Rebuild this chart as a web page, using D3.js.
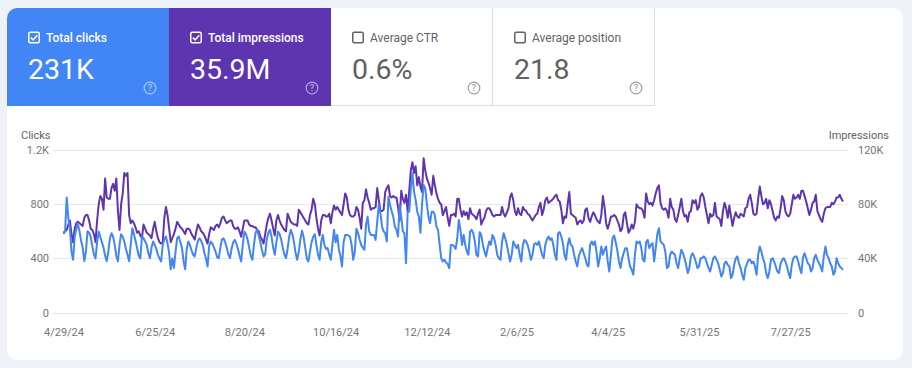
<!DOCTYPE html>
<html><head><meta charset="utf-8">
<script src="https://cdn.jsdelivr.net/npm/d3@7"></script>
<style>
html,body{margin:0;padding:0;background:#eef1f7;}
svg{display:block;font-family:Roboto, "Noto Sans", sans-serif;}
</style></head><body>
<svg id="chart" width="912" height="368"></svg>
<script>
// ---------- data ----------
const startDate = "2024-04-29";   // first day of the daily series
const metricLabels = ["Total clicks", "Total impressions", "Average CTR", "Average position"];
const metricValues = ["231K", "35.9M", "0.6%", "21.8"];
const metricSelected = [true, true, false, false];
const metricColors = ["#4285f4", "#5e35b1", null, null];

const clickTicks = [0, 400, 800, 1200];
const impressionTicks = [0, 40, 80, 120];   // thousands
const dateTicks = ["2024-04-29","2024-06-25","2024-08-20","2024-10-16","2024-12-12","2025-02-06","2025-04-04","2025-05-31","2025-07-27"];

const clicks = [
580,600,850,700,620,450,390,
560,620,648,600,530,480,380,
450,600,590,560,490,430,400,
520,598,560,520,480,420,380,
450,549,586,560,500,420,378,
500,579,560,525,470,427,380,
500,623,580,530,476,420,400,
562,549,525,500,440,402,480,
525,500,470,427,400,378,500,
540,562,510,440,320,400,330,
450,549,562,520,480,380,320,
470,525,500,460,427,415,480,
530,549,530,500,440,400,340,
490,525,510,480,450,410,402,
480,540,549,520,480,430,402,
470,520,537,510,470,420,378,
500,598,580,540,480,420,390,
500,590,611,570,520,460,415,
430,540,590,611,560,480,427,
520,598,580,540,480,430,402,
470,560,611,580,520,440,390,
450,540,604,560,480,400,378,
450,520,560,579,500,430,390,
520,574,500,470,476,430,390,
500,611,520,574,470,420,341,
520,574,574,570,560,500,390,
451,620,590,540,500,480,464,
648,709,600,574,574,574,537,
672,795,734,636,600,586,525,
856,795,750,709,636,611,562,
795,709,600,586,365,745,745,
917,1028,893,832,745,709,590,
800,942,917,807,709,660,745,
745,720,635,611,500,402,378,
390,370,360,329,500,500,490,
470,549,684,611,500,574,500,
451,427,598,611,586,525,427,
415,594,574,500,451,415,476,
525,500,574,549,500,427,400,
390,525,586,549,500,439,378,
427,525,500,476,500,427,378,
500,537,525,500,451,390,427,
505,513,500,525,476,427,402,
500,540,562,537,549,500,427,
390,586,594,562,513,427,390,
500,549,500,488,427,378,341,
420,451,476,439,402,353,341,
500,525,500,525,451,341,402,
488,427,464,488,378,304,427,
549,569,520,460,380,329,400,
440,476,476,402,341,316,280,
427,525,513,525,476,390,378,
520,537,476,500,513,378,476,
580,623,525,513,500,451,329,
341,427,451,439,427,365,329,
402,464,439,402,353,292,329,
415,439,415,378,329,341,402,
402,415,402,365,329,304,353,
402,415,390,365,316,267,292,
365,378,353,341,255,280,353,
402,415,365,329,280,243,329,
360,390,390,365,378,341,280,
427,488,451,402,365,292,255,
304,390,402,378,341,304,292,
360,390,402,378,341,292,255,
353,402,415,415,378,329,292,
410,439,402,365,353,304,329,
402,427,390,365,341,304,415,
488,427,402,365,341,280,304,
402,365,341,329,316
];

// impressions, in thousands
const impressionsK = [
59,60,61,65,68,58,52,
62,66,67,66,65,64,70,
72,72,68,62,61,58,52,
68,80,86,84,76,99,85,
84,84,92,95,90,99,75,
61,80,88,103,101,103,72,
66,68,66,63,59,60,57,
55,65,62,59,58,57,55,
62,67,60,55,52,51,52,
70,78,72,62,52,55,58,
62,67,65,63,62,60,58,
62,62,61,58,56,54,60,
65,63,60,59,57,54,51,
58,63,62,61,64,65,63,
66,70,71,68,66,67,68,
68,64,62,62,63,60,56,
62,68,68,68,65,64,64,
63,63,61,60,56,54,51,
58,65,70,73,68,62,57,
68,72,68,65,63,61,60,
73,70,67,66,65,65,64,
76,74,72,70,68,66,65,
72,76,84,80,70,62,57,
68,72,72,71,71,73,66,
74,79,76,78,76,74,72,
80,88,85,76,72,71,71,
72,78,76,70,62,81,83,
91,85,81,76,77,77,78,
92,83,75,75,76,89,92,
94,86,85,86,85,85,78,
68,90,84,81,87,75,90,
105,111,103,108,94,100,93,
89,114,105,99,96,92,87,
101,94,88,84,81,80,72,
75,78,70,64,72,72,73,
71,84,84,76,71,75,72,
74,69,77,73,72,71,69,
73,76,65,68,70,75,77,
77,75,72,71,72,72,72,
72,78,73,71,74,77,85,
88,83,75,72,77,73,72,
78,76,75,73,72,70,68,
70,72,73,78,81,72,76,
83,85,81,82,83,84,86,
87,83,82,76,66,71,70,
80,89,73,72,71,70,65,
67,68,66,68,76,77,70,
67,71,74,72,69,67,66,
72,86,78,66,62,66,71,
71,72,71,68,65,60,62,
72,74,66,59,61,65,62,
67,80,78,77,77,75,70,
88,82,80,81,79,83,88,
92,94,81,77,76,77,75,
70,84,78,76,69,67,72,
78,84,75,71,72,67,74,
75,83,81,83,76,78,86,
88,85,78,72,66,73,71,
72,81,71,70,69,64,75,
81,77,70,79,71,64,70,
74,71,70,73,72,71,77,
78,84,87,81,73,72,73,
84,93,86,80,81,84,77,
83,80,75,70,68,71,70,
77,86,83,75,72,71,73,
80,87,84,85,87,84,90,
90,86,82,77,72,76,81,
82,87,75,72,69,67,73,
77,78,78,78,81,80,82,
85,85,87,84,82
];

// ---------- drawing ----------
const W = 912, H = 368;
const svg = d3.select("#chart");
const parse = d3.timeParse("%Y-%m-%d");
const d0 = parse(startDate);
const days = clicks.map((_, i) => d3.timeDay.offset(d0, i));

svg.append("rect").attr("width", W).attr("height", H).attr("fill", "#eef1f7");

const card = {x: 7, y: 8, w: 896, h: 352, r: 10};
svg.append("defs").append("clipPath").attr("id", "cardClip")
  .append("rect").attr("x", card.x).attr("y", card.y).attr("width", card.w).attr("height", card.h).attr("rx", card.r);
svg.append("rect").attr("x", card.x).attr("y", card.y).attr("width", card.w).attr("height", card.h)
  .attr("rx", card.r).attr("fill", "#ffffff");

// metric tiles
const tileW = 162, tileH = 98;
const tiles = svg.append("g").attr("clip-path", "url(#cardClip)");
metricLabels.forEach((lab, i) => {
  const tx = card.x + i * tileW, ty = card.y;
  const sel = metricSelected[i];
  const g = tiles.append("g");
  g.append("rect").attr("x", tx).attr("y", ty).attr("width", tileW).attr("height", tileH)
    .attr("fill", sel ? metricColors[i] : "#ffffff");
  const fg = sel ? "#ffffff" : "#5f6368";
  if (!sel) {
    g.append("line").attr("x1", tx + tileW - 0.5).attr("x2", tx + tileW - 0.5).attr("y1", ty).attr("y2", ty + tileH)
      .attr("stroke", "#dadce0");
    g.append("line").attr("x1", tx).attr("x2", tx + tileW).attr("y1", ty + tileH - 0.5).attr("y2", ty + tileH - 0.5)
      .attr("stroke", "#dadce0");
  }
  // checkbox
  g.append("rect").attr("x", tx + 21.75).attr("y", 32.25).attr("width", 10.5).attr("height", 10.5).attr("rx", 1.5)
    .attr("fill", "none").attr("stroke", fg).attr("stroke-width", 1.5);
  if (sel) {
    g.append("path").attr("d", `M${tx+23.8},37.6 L${tx+26.1},39.9 L${tx+30.3},35.2`)
      .attr("fill", "none").attr("stroke", fg).attr("stroke-width", 1.5);
  }
  g.append("text").attr("x", tx + 39).attr("y", 41.5).attr("font-size", 12)
    .attr("font-weight", sel ? 500 : 400).attr("fill", fg).text(lab);
  g.append("text").attr("x", tx + 21).attr("y", 78.5).attr("font-size", 28.5)
    .attr("fill", sel ? "#ffffff" : "#616161").text(metricValues[i]);
  // help icon
  const ic = sel ? "rgba(255,255,255,0.55)" : "#9e9e9e";
  g.append("circle").attr("cx", tx + 143).attr("cy", 88).attr("r", 5.8)
    .attr("fill", "none").attr("stroke", ic).attr("stroke-width", 1.2);
  g.append("text").attr("x", tx + 143).attr("y", 91.2).attr("text-anchor", "middle")
    .attr("font-size", 9).attr("font-weight", 500).attr("fill", ic).text("?");
});

// chart scales
const plotL = 53, plotR = 848;
const x = d3.scaleTime().domain([days[0], days[days.length - 1]]).range([63.5, 843]);
const yL = d3.scaleLinear().domain([0, 1200]).range([312.7, 150]);
const yR = d3.scaleLinear().domain([0, 120]).range([312.7, 150]);

// gridlines
svg.append("g").selectAll("line").data(clickTicks).join("line")
  .attr("x1", plotL).attr("x2", plotR)
  .attr("y1", d => Math.round(yL(d)) + 0.5).attr("y2", d => Math.round(yL(d)) + 0.5)
  .attr("stroke", "#e8e8e8").attr("stroke-width", 1);

const tickColor = "#757575";
function styleAxis(g) {
  g.select(".domain").remove();
  g.selectAll("line").remove();
  g.selectAll("text").attr("fill", tickColor).attr("font-size", 11)
    .attr("font-family", "Roboto, sans-serif");
}

svg.append("g").attr("transform", `translate(${plotL},0)`)
  .call(d3.axisLeft(yL).tickValues(clickTicks).tickSize(0).tickPadding(4)
    .tickFormat(d => d >= 1000 ? d3.format(".1f")(d / 1000) + "K" : d3.format("d")(d)))
  .call(styleAxis);

svg.append("g").attr("transform", `translate(${plotR},0)`)
  .call(d3.axisRight(yR).tickValues(impressionTicks).tickSize(0).tickPadding(10)
    .tickFormat(d => d === 0 ? "0" : d + "K"))
  .call(styleAxis);

svg.append("g").attr("transform", `translate(0,328.5)`)
  .call(d3.axisBottom(x).tickValues(dateTicks.map(parse)).tickSize(0).tickPadding(0)
    .tickFormat(d3.timeFormat("%-m/%-d/%y")))
  .call(styleAxis);

// axis titles
svg.append("text").attr("x", 21).attr("y", 139).attr("font-size", 11).attr("fill", "#5f6368").text("Clicks");
svg.append("text").attr("x", 889).attr("y", 139).attr("font-size", 11).attr("fill", "#5f6368")
  .attr("text-anchor", "end").text("Impressions");

// lines
const impLine = d3.line().x((d, i) => x(days[i])).y(d => yR(d));
const clkLine = d3.line().x((d, i) => x(days[i])).y(d => yL(d));
svg.append("path").datum(impressionsK).attr("d", impLine)
  .attr("fill", "none").attr("stroke", "#5e35b1").attr("stroke-width", 2).attr("stroke-linejoin", "round");
svg.append("path").datum(clicks).attr("d", clkLine)
  .attr("fill", "none").attr("stroke", "#4285f4").attr("stroke-width", 2).attr("stroke-linejoin", "round");
</script>
</body></html>
